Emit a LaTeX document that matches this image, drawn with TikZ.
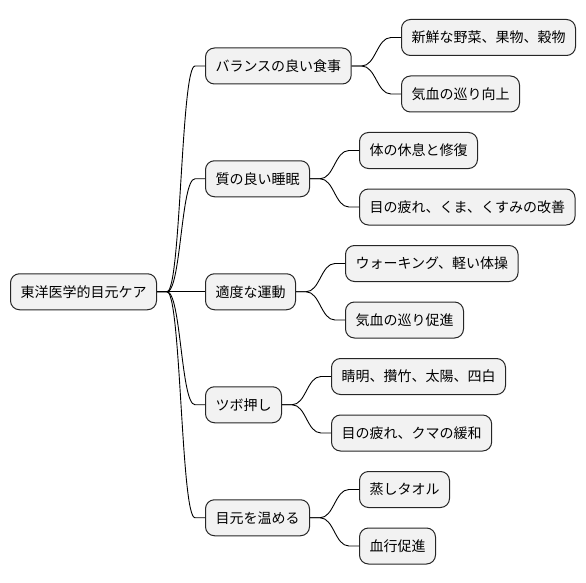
\documentclass[tikz,border=0pt]{standalone}
\usepackage{fontspec}
\setmainfont{Noto Sans CJK JP}

\begin{document}
\begin{tikzpicture}[x=1pt, y=-1pt,
  topic/.style={shape=rectangle, rounded corners=9pt, draw=black!85, fill=gray!10,
    line width=1pt, minimum height=36pt, inner xsep=10pt, anchor=west,
    font=\fontsize{14pt}{17pt}\selectfont},
  branch/.style={line width=0.9pt,
    to path={-- ++(10,0) .. controls +(14,0) and +(-14,0) .. ([xshift=-10pt]\tikztotarget.west) -- (\tikztotarget.west)}}
]
\useasboundingbox (0,0) rectangle (586,583);

              % root
\node[topic] at (10, 291.75)
(root) {東洋医学的目元ケア};

              % first level
\node[topic] at (205, 66)
(meal) {バランスの良い食事};

\node[topic] at (205, 178.75)
(sleep) {質の良い睡眠};

\node[topic] at (205, 291.75)
(move) {適度な運動};

\node[topic] at (205, 404.75)
(tsubo) {ツボ押し};

\node[topic] at (205, 517.75)
(warm) {目元を温める};

              % second level
\node[topic] at (401, 37.5)
(fresh) {新鮮な野菜、果物、穀物};
\node[topic] at (401, 94)
(flowa) {気血の巡り向上};

\node[topic] at (359, 150.5)
(rest) {体の休息と修復};
\node[topic] at (359, 207)
(eyesa) {目の疲れ、くま、くすみの改善};

\node[topic] at (345, 263.5)
(walk) {ウォーキング、軽い体操};
\node[topic] at (345, 320)
(flowb) {気血の巡り促進};

\node[topic] at (331, 376.5)
(points) {睛明、攢竹、太陽、四白};
\node[topic] at (331, 433)
(eyesb) {目の疲れ、クマの緩和};

\node[topic] at (359, 489.5)
(towel) {蒸しタオル};
\node[topic] at (359, 546)
(blood) {血行促進};

\draw[branch]
  (root.east)  edge (meal)
  (root.east)  edge (sleep)
  (root.east)  edge (move)
  (root.east)  edge (tsubo)
  (root.east)  edge (warm)
  (meal.east)  edge (fresh)
  (meal.east)  edge (flowa)
  (sleep.east) edge (rest)
  (sleep.east) edge (eyesa)
  (move.east)  edge (walk)
  (move.east)  edge (flowb)
  (tsubo.east) edge (points)
  (tsubo.east) edge (eyesb)
  (warm.east)  edge (towel)
  (warm.east)  edge (blood)
;
\end{tikzpicture}
\end{document}
